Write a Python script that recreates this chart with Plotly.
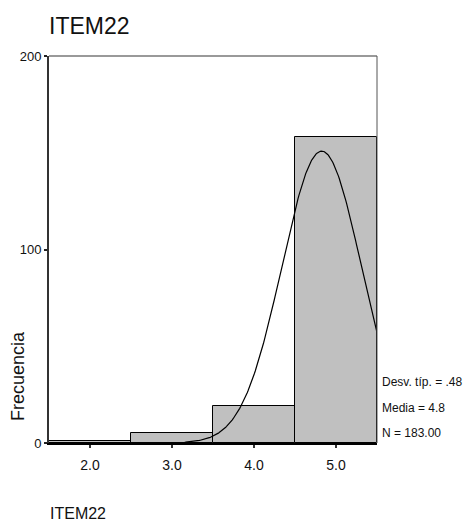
import numpy as np
import plotly.graph_objects as go

# ---- data ----
bin_centers = [2.0, 3.0, 4.0, 5.0]
counts = [1, 5, 19, 158]
x_tick_vals = [2.0, 3.0, 4.0, 5.0]
x_tick_text = ["2.0", "3.0", "4.0", "5.0"]
y_tick_vals = [0, 100, 200]
y_tick_text = ["0", "100", "200"]
stat_labels = ["Desv. típ. = .48", "Media = 4.8", "N = 183.00"]
fit_mean = 4.825
fit_sd = 0.484
fit_n = 183
bin_width = 1.0

FONT = "Liberation Sans Narrow, Arial Narrow, Liberation Sans, Arial, sans-serif"

# fitted normal curve from the summary statistics
xs = np.linspace(1.5, 5.5, 400)
ys = fit_n * bin_width / (fit_sd * np.sqrt(2 * np.pi)) * np.exp(-0.5 * ((xs - fit_mean) / fit_sd) ** 2)

fig = go.Figure()
fig.add_trace(go.Bar(
    x=bin_centers, y=counts, width=bin_width,
    marker=dict(color="#c0c0c0", line=dict(color="black", width=1)),
    hoverinfo="x+y", showlegend=False,
))
fig.add_trace(go.Scatter(
    x=xs, y=ys, mode="lines",
    line=dict(color="black", width=1.2),
    showlegend=False, hoverinfo="skip",
))

fig.update_layout(
    width=466, height=521,
    margin=dict(l=49, r=89, t=56, b=78, autoexpand=False),
    paper_bgcolor="white", plot_bgcolor="white",
    bargap=0,
    font=dict(family=FONT, size=14, color="black"),
    xaxis=dict(
        range=[1.5, 5.5], tickvals=x_tick_vals, ticktext=x_tick_text,
        showgrid=False, zeroline=False, showline=True, linecolor="black", linewidth=1.5,
        ticks="outside", ticklen=3, tickwidth=2, tickcolor="#333",
        ticklabelstandoff=5, automargin=False,
        tickfont=dict(family=FONT, size=14, color="#111"),
    ),
    yaxis=dict(
        range=[0, 200], tickvals=y_tick_vals, ticktext=y_tick_text,
        showgrid=False, zeroline=False, showline=True, linecolor="#333", linewidth=2,
        ticks="outside", ticklen=3, tickwidth=2, tickcolor="#222",
        automargin=False,
        tickfont=dict(family=FONT, size=13, color="#111"),
    ),
    shapes=[
        dict(type="line", xref="paper", yref="paper", x0=0, x1=1, y0=1, y1=1,
             line=dict(color="#777", width=1.5), layer="above"),
        dict(type="line", xref="paper", yref="paper", x0=1, x1=1, y0=0, y1=1,
             line=dict(color="#555", width=1), layer="above"),
    ],
)

annotations = [
    dict(text="ITEM22", xref="paper", yref="paper", x=0, y=1, xanchor="left", yanchor="middle",
         xshift=-2, yshift=30, showarrow=False, font=dict(family=FONT, size=23, color="#111")),
    dict(text="ITEM22", xref="paper", yref="paper", x=0, y=0, xanchor="left", yanchor="middle",
         xshift=-1, yshift=-70, showarrow=False, font=dict(family=FONT, size=16, color="#111")),
    dict(text="Frecuencia", xref="paper", yref="paper", x=0, y=0, xanchor="center", yanchor="middle",
         xshift=-31, yshift=67, textangle=-90, showarrow=False,
         font=dict(family=FONT, size=18, color="#111")),
]
for i, t in enumerate(stat_labels):
    annotations.append(dict(
        text=t, xref="paper", yref="paper", x=1, y=0, xanchor="left", yanchor="middle",
        xshift=3, yshift=61 - 25.5 * i, showarrow=False,
        font=dict(family=FONT, size=12, color="#111"),
    ))
fig.update_layout(annotations=annotations)

fig.write_html("out.html", config={"displayModeBar": False},
               post_script="document.body.style.margin='0';")
